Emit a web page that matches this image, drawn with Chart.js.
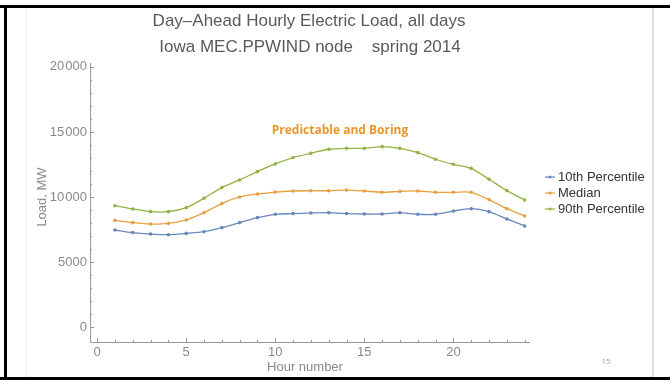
<!DOCTYPE html>
<html>
<head>
<meta charset="utf-8">
<script src="https://cdn.jsdelivr.net/npm/chart.js@4/dist/chart.umd.min.js"></script>
<style>
  html, body { margin: 0; padding: 0; background: #fff; }
  #wrap { position: relative; width: 670px; height: 380px; overflow: hidden; }
  #loadChart { position: absolute; left: 0; top: 0; }
  .edge { position: absolute; background: #000; }
  .rule { position: absolute; background: #ddd; }
</style>
</head>
<body>
<div id="wrap">
  <canvas id="loadChart" width="670" height="380"></canvas>
  <div class="edge" style="left:0;top:5px;width:670px;height:3px"></div>
  <div class="edge" style="left:4px;top:5px;width:3px;height:375px"></div>
  <div class="edge" style="left:0;top:377px;width:670px;height:3px"></div>
  <div class="rule" style="left:26px;top:8px;width:1px;height:369px;background:#eee"></div>
  <div class="rule" style="left:652px;top:8px;width:2px;height:369px"></div>
</div>
<script>
'use strict'

// hours of the day and load percentiles (MW)
const hours = [1,2,3,4,5,6,7,8,9,10,11,12,13,14,15,16,17,18,19,20,21,22,23,24];
const p10 = [7460,7260,7150,7100,7200,7330,7640,8030,8410,8670,8720,8770,8790,8720,8690,8690,8790,8670,8670,8920,9100,8870,8310,7770];
const median = [8200,8030,7920,7970,8230,8790,9490,10000,10230,10380,10460,10480,10480,10530,10460,10360,10430,10460,10360,10360,10360,9800,9100,8540];
const p90 = [9330,9080,8870,8870,9180,9900,10720,11310,11950,12540,13030,13360,13670,13740,13740,13870,13740,13410,12900,12510,12200,11360,10490,9770];

const seriesNames = ["10th Percentile", "Median", "90th Percentile"];
const seriesColors = ["#6a87bd", "#e6a040", "#93b443"];
const yTicks = [0, 5000, 10000, 15000, 20000];
const xTicks = [0, 5, 10, 15, 20];

function toPoints(vals){
  return hours.map(function(h, i){ return {x: h, y: vals[i]}; });
}

function fmt(v){
  // digit grouping with a hair space, like 20 000
  let s = String(v);
  if (s.length > 4) s = s.slice(0, s.length - 3) + '\u200A' + s.slice(-3);
  return s;
}

//draw the axes, labels and legend by hand
const framePlugin = {
  id: 'frame',
  afterDraw: function(chart){
    const ctx = chart.ctx;
    const xs = chart.scales.x;
    const ys = chart.scales.y;
    const area = chart.chartArea;
    ctx.save();

    // axis lines
    ctx.strokeStyle = '#9a9a9a';
    ctx.lineWidth = 1;
    ctx.beginPath();
    ctx.moveTo(area.left + 0.5, area.top);
    ctx.lineTo(area.left + 0.5, area.bottom + 0.5);
    ctx.lineTo(area.right, area.bottom + 0.5);
    ctx.stroke();

    // y ticks, major and minor, pointing inward
    ctx.beginPath();
    for (let v = 0; v <= 20000; v += 1000){
      const py = Math.round(ys.getPixelForValue(v)) + 0.5;
      const len = (v % 5000 === 0) ? 4 : 2;
      ctx.moveTo(area.left, py);
      ctx.lineTo(area.left + len, py);
    }
    // x ticks
    for (let v = 0; v <= 24; v += 1){
      const px = Math.round(xs.getPixelForValue(v)) + 0.5;
      const len = (v % 5 === 0) ? 4 : 2;
      ctx.moveTo(px, area.bottom);
      ctx.lineTo(px, area.bottom - len);
    }
    ctx.stroke();

    // tick labels
    ctx.fillStyle = '#8a8a8a';
    ctx.font = '13px "Liberation Sans", Arial, sans-serif';
    ctx.textAlign = 'right';
    ctx.textBaseline = 'middle';
    yTicks.forEach(function(v){
      ctx.fillText(fmt(v), area.left - 3, ys.getPixelForValue(v));
    });
    ctx.textAlign = 'center';
    ctx.textBaseline = 'top';
    xTicks.forEach(function(v){
      ctx.fillText(String(v), xs.getPixelForValue(v), area.bottom + 4);
    });

    // axis titles
    ctx.fillStyle = '#8a8a8a';
    ctx.textBaseline = 'middle';
    ctx.fillText('Hour number', 305, 367);
    ctx.save();
    ctx.translate(42, 197);
    ctx.rotate(-Math.PI / 2);
    ctx.fillText('Load, MW', 0, 0);
    ctx.restore();

    // chart title
    ctx.fillStyle = '#5a5a5a';
    ctx.font = '17px "Liberation Sans", Arial, sans-serif';
    ctx.fillText('Day\u2013Ahead Hourly Electric Load, all days', 309, 21);
    ctx.fillText('Iowa MEC.PPWIND node    spring 2014', 310, 47);

    // annotation
    ctx.fillStyle = '#e8962a';
    ctx.font = 'bold 12px "Open Sans", sans-serif';
    ctx.fillText('Predictable and Boring', 340, 131);

    // legend
    ctx.font = '13px "Liberation Sans", Arial, sans-serif';
    ctx.textAlign = 'left';
    seriesNames.forEach(function(name, i){
      const ly = 177 + i * 16;
      ctx.strokeStyle = seriesColors[i];
      ctx.lineWidth = 1.2;
      ctx.beginPath();
      ctx.moveTo(545, ly);
      ctx.lineTo(555, ly);
      ctx.stroke();
      ctx.fillStyle = seriesColors[i];
      ctx.beginPath();
      ctx.arc(550, ly, 1.6, 0, Math.PI * 2);
      ctx.fill();
      ctx.fillStyle = '#333';
      ctx.fillText(name, 558, ly);
    });

    // slide number
    ctx.fillStyle = '#999';
    ctx.font = '8px "Open Sans", sans-serif';
    ctx.textAlign = 'center';
    ctx.fillText('15', 606, 362);

    ctx.restore();
  }
};

const datasets = [p10, median, p90].map(function(vals, i){
  return {
    label: seriesNames[i],
    data: toPoints(vals),
    borderColor: seriesColors[i],
    backgroundColor: seriesColors[i],
    borderWidth: 1.3,
    pointRadius: 1.8,
    pointBorderWidth: 0,
    tension: 0.25
  };
});

const ctx = document.getElementById('loadChart').getContext('2d');
const loadChart = new Chart(ctx, {
  type: 'line',
  data: { datasets: datasets },
  options: {
    responsive: false,
    animation: false,
    layout: { padding: { left: 90, top: 63, right: 140, bottom: 38 } },
    plugins: { legend: { display: false }, title: { display: false }, tooltip: { enabled: false } },
    scales: {
      x: { type: 'linear', min: -0.4, max: 24.3, display: false },
      y: { type: 'linear', min: -1150, max: 20300, display: false }
    }
  },
  plugins: [framePlugin]
});
</script>
</body>
</html>
